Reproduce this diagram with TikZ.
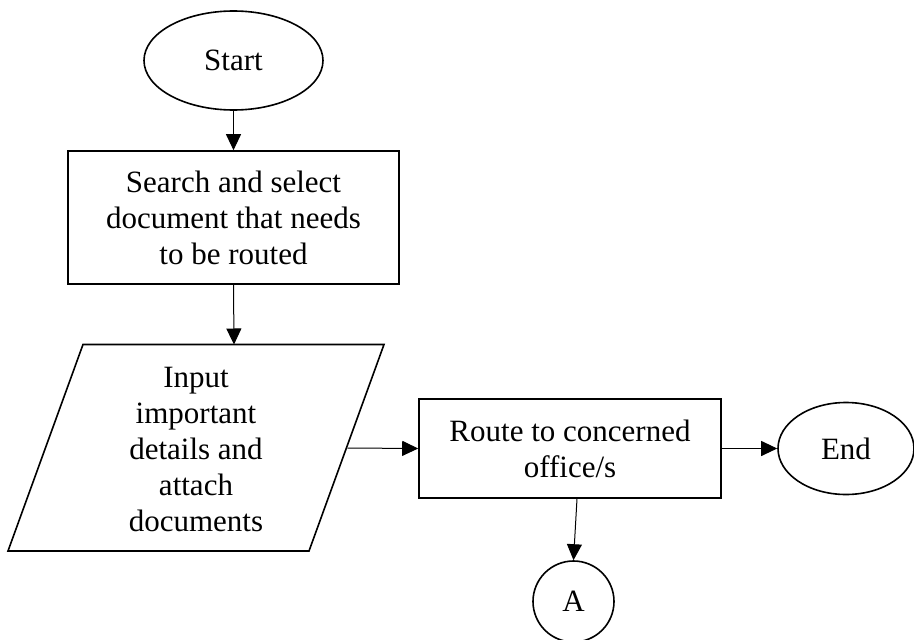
\documentclass[tikz,border=0pt]{standalone}
\usepackage{fontspec}
\setmainfont{Liberation Serif}
\usetikzlibrary{shapes.geometric,arrows.meta}
\begin{document}
\begin{tikzpicture}[x=1pt,y=-1pt,
  txt/.style={font=\fontsize{31}{36}\selectfont, align=center, inner sep=0pt},
  shape line/.style={line width=1.6pt},
  oval/.style={txt, draw, shape line, ellipse, inner sep=0pt},
  procbox/.style={txt, draw, shape line, rectangle},
  conn/.style={line width=1pt, -{Triangle[length=16pt,width=15pt]}}
]
\useasboundingbox (0,0) rectangle (914,640);

\node[oval, minimum width=179pt, minimum height=99pt] (start) at (233.5,60.5) {Start};
\node[procbox, minimum width=331pt, minimum height=133pt] (search) at (233.5,217.5)
  {Search and select\\document that needs\\to be routed};

% parallelogram
\coordinate (pTL) at (83,344.5);
\coordinate (pTR) at (384,344.5);
\coordinate (pBR) at (309,551);
\coordinate (pBL) at (8,551);
\draw[shape line, line join=miter] (pTL) -- (pTR) -- (pBR) -- (pBL) -- cycle;
\node[txt] (para) at (196,449) {Input\\important\\details and\\attach\\documents};
\coordinate (paraN) at (234,344.5);
\coordinate (paraE) at (347.5,448);

\node[procbox, minimum width=302pt, minimum height=99pt] (route) at (570,448.5)
  {Route to concerned\\office/s};
\node[oval, minimum width=136pt, minimum height=92pt] (end) at (846,448.5) {End};
\node[txt, draw, shape line, circle, minimum size=81pt] (A) at (573.5,601.5) {A};

\draw[conn] (start.south) -- (search.north);
\draw[conn] (search.south) -- (paraN);
\draw[conn] (paraE) -- (route.west);
\draw[conn] (route.east) -- (end.west);
\draw[conn] ([xshift=7pt]route.south) -- (A.north);
\end{tikzpicture}
\end{document}
